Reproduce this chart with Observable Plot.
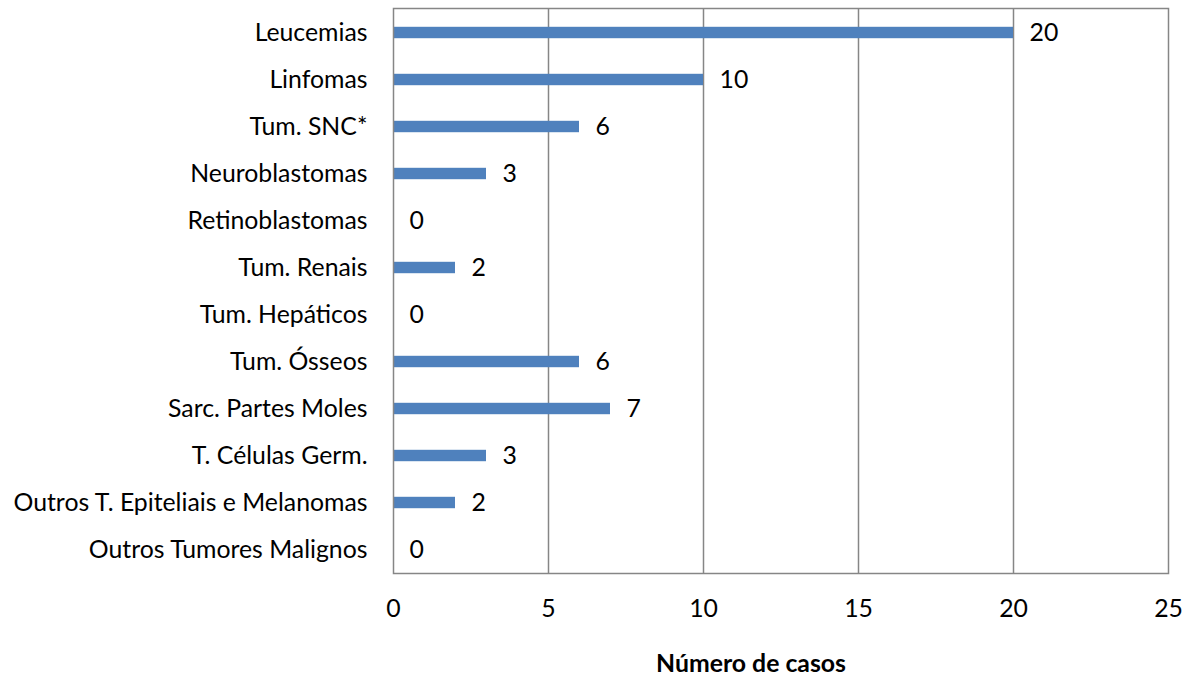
<!DOCTYPE html>
<html>
<head>
<meta charset="utf-8">
<script src="https://cdn.jsdelivr.net/npm/d3@7"></script>
<script src="https://cdn.jsdelivr.net/npm/@observablehq/plot@0.6"></script>
<style>
  html, body { margin: 0; padding: 0; background: #fff; }
  #chart svg { font-family: Lato, "Open Sans", sans-serif; }
</style>
</head>
<body>
<div id="chart"></div>
<script>
const categories = [
  "Leucemias",
  "Linfomas",
  "Tum. SNC*",
  "Neuroblastomas",
  "Retinoblastomas",
  "Tum. Renais",
  "Tum. Hepáticos",
  "Tum. Ósseos",
  "Sarc. Partes Moles",
  "T. Células Germ.",
  "Outros T. Epiteliais e Melanomas",
  "Outros Tumores Malignos"
];
const values = [20, 10, 6, 3, 0, 2, 0, 6, 7, 3, 2, 0];
const xTicks = [0, 5, 10, 15, 20, 25];
const xTitle = "Número de casos";

const data = categories.map((c, i) => ({ category: c, value: values[i] }));

const W = 1189, H = 678;
const mL = 393, mR = 21, mT = 8, mB = 105;
const bandH = (H - mT - mB) / categories.length;
const inset = (bandH - 11.5) / 2;
const FS = 24.8;

const chart = Plot.plot({
  width: W,
  height: H,
  marginLeft: mL,
  marginRight: mR,
  marginTop: mT,
  marginBottom: mB,
  style: { fontSize: FS + "px", fontFamily: "Lato, 'Open Sans', sans-serif", color: "#000", background: "#fff" },
  x: { domain: [0, 25], ticks: xTicks, label: null },
  y: { domain: categories, padding: 0, label: null },
  marks: [
    Plot.gridX(xTicks.slice(1, -1), { stroke: "#868686", strokeOpacity: 1, strokeWidth: 1.5 }),
    Plot.barX(data, { x: "value", y: "category", fill: "#4f81bd", insetTop: inset, insetBottom: inset }),
    Plot.frame({ stroke: "#868686", strokeWidth: 1.5 }),
    Plot.text(data, { x: "value", y: "category", text: d => String(d.value), textAnchor: "start", dx: 16, fontSize: FS, fill: "#000" }),
    Plot.axisX(xTicks, { tickSize: 0, tickPadding: 26, fontSize: FS, label: null }),
    Plot.axisY({ tickSize: 0, tickPadding: 26, fontSize: FS, label: null }),
    Plot.text([xTitle], { frameAnchor: "bottom", dy: 98, dx: -30, text: d => d, fontWeight: "bold", fontSize: FS, fill: "#000" })
  ]
});
document.getElementById("chart").appendChild(chart);
</script>
</body>
</html>
